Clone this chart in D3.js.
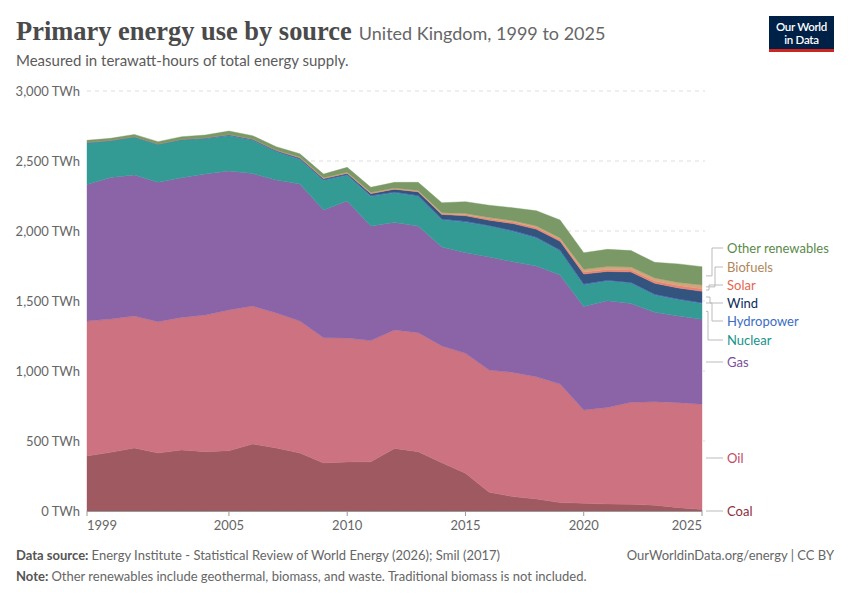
<!DOCTYPE html>
<html>
<head>
<meta charset="utf-8">
<script src="https://cdn.jsdelivr.net/npm/d3@7"></script>
<style>
  body { margin: 0; background: #fff; }
  svg { display: block; }
  text { font-family: Lato, "Noto Sans", sans-serif; }
</style>
</head>
<body>
<svg id="chart" width="850" height="600"></svg>
<script>
// ---------- DATA (TWh) ----------
const years = [1999,2000,2001,2002,2003,2004,2005,2006,2007,2008,2009,2010,2011,2012,2013,2014,2015,2016,2017,2018,2019,2020,2021,2022,2023,2024,2025];
const coal     = [393,419,450,414,436,424,431,478,450,414,343,350,352,447,424,345,269,134,103,86,60,55,50,48,41,24,10];
const oil      = [964,952,943,938,947,976,1005,986,964,943,895,886,865,846,850,834,857,873,887,873,847,666,690,728,740,750,752];
const gas      = [976,1012,1007,996,997,1007,993,946,950,978,912,978,819,767,762,706,719,808,790,791,779,739,762,707,638,619,607];
const nuclear  = [295,259,270,268,271,252,252,238,202,176,211,185,211,214,212,196,218,220,217,200,173,154,141,145,124,116,114];
const hydro    = [5,5,4,5,3,5,5,5,5,5,5,4,6,5,5,5,6,5,6,5,5,7,5,5,5,5,5];
const wind     = [1,1,1,1.3,1.3,2,3,4,5,7,9,10,15,20,27,32,40,37,50,57,62,71,63,74,78,79,81];
const solar    = [0,0,0,0,0,0,0,0,0,0,0,0,0.3,1.5,2,4,7.5,10,11,12.7,12.5,15,14,15,17,17,19];
const biofuels = [0,0,0,0,0.3,0.5,1,2,3,5,6,7,7,7,8,9,9,9,10,11,12,19,21,21,21,23,26];
const otherRen = [14,14,15,16,18,19,24,22,23,24,26,35,37,40,58,71,84,88,92,109,128,119,123,117,112,132,131];

const yTicks = [0,500,1000,1500,2000,2500,3000];
const xTicks = [1999,2005,2010,2015,2020,2025];

const series = [
  {key:"coal", name:"Coal", values:coal, fill:"#9e5961", text:"#8c2f3c"},
  {key:"oil", name:"Oil", values:oil, fill:"#cc7280", text:"#c24a63"},
  {key:"gas", name:"Gas", values:gas, fill:"#8a64a6", text:"#7a4f9c"},
  {key:"nuclear", name:"Nuclear", values:nuclear, fill:"#339a94", text:"#16928a"},
  {key:"hydro", name:"Hydropower", values:hydro, fill:"#4a78c2", text:"#3b6dc4"},
  {key:"wind", name:"Wind", values:wind, fill:"#33547f", text:"#0d2b5c"},
  {key:"solar", name:"Solar", values:solar, fill:"#ea8470", text:"#e5664f"},
  {key:"biofuels", name:"Biofuels", values:biofuels, fill:"#d1a47c", text:"#b0875a"},
  {key:"other", name:"Other renewables", values:otherRen, fill:"#7a9966", text:"#5a8a48"}
];

const table = years.map((yr,i) => {
  const row = {year: yr};
  series.forEach(s => row[s.key] = s.values[i]);
  return row;
});

// ---------- LAYOUT ----------
const svg = d3.select("#chart");
const margin = {left: 87, right: 702, top: 91, bottom: 511};

const x = d3.scaleLinear().domain([1999, 2025]).range([margin.left, margin.right]);
const y = d3.scaleLinear().domain([0, 3000]).range([margin.bottom, margin.top]);

// Title
const title = svg.append("text")
  .attr("x", 16).attr("y", 40)
  .style("font-family", "'Liberation Serif', 'DejaVu Serif', serif")
  .style("font-weight", "bold")
  .style("font-size", "27px")
  .attr("fill", "#4a4a4a")
  .text("Primary energy use by source");
let tw = title.node().getComputedTextLength();
const targetW = 336;
title.style("font-size", (27 * targetW / tw).toFixed(2) + "px");
tw = title.node().getComputedTextLength();

svg.append("text")
  .attr("x", 16 + tw + 7).attr("y", 40)
  .style("font-size", "18px")
  .attr("fill", "#666")
  .text("United Kingdom, 1999 to 2025");

svg.append("text")
  .attr("x", 16).attr("y", 66)
  .style("font-size", "15px")
  .attr("fill", "#5b5b5b")
  .text("Measured in terawatt-hours of total energy supply.");

// Logo
const logo = svg.append("g").attr("transform", "translate(769,16)");
logo.append("rect").attr("width", 65).attr("height", 36).attr("fill", "#002147");
logo.append("rect").attr("y", 33).attr("width", 65).attr("height", 3).attr("fill", "#ce261e");
logo.append("text").attr("x", 32.5).attr("y", 15).attr("text-anchor", "middle")
  .attr("fill", "#fff").style("font-size", "11.5px").style("font-weight", "600")
  .style("letter-spacing", "-0.3px").text("Our World");
logo.append("text").attr("x", 32.5).attr("y", 28).attr("text-anchor", "middle")
  .attr("fill", "#fff").style("font-size", "11.5px").style("font-weight", "600")
  .style("letter-spacing", "-0.3px").text("in Data");

// Grid + y labels
const grid = svg.append("g");
yTicks.forEach(t => {
  if (t > 0) {
    grid.append("line")
      .attr("x1", margin.left).attr("x2", 705)
      .attr("y1", y(t)).attr("y2", y(t))
      .attr("stroke", "#dddddd").attr("stroke-width", 1)
      .attr("stroke-dasharray", "4,4");
  }
  grid.append("text")
    .attr("x", 80).attr("y", y(t)).attr("dy", "0.35em")
    .attr("text-anchor", "end")
    .style("font-size", "13px").attr("fill", "#666")
    .text(d3.format(",")(t) + " TWh");
});

// Stacked areas
const stack = d3.stack().keys(series.map(s => s.key));
const stacked = stack(table);
const area = d3.area()
  .x(d => x(d.data.year))
  .y0(d => y(d[0]))
  .y1(d => y(d[1]));

svg.append("g").selectAll("path")
  .data(stacked)
  .join("path")
  .attr("d", area)
  .attr("fill", (d,i) => series[i].fill)
  .attr("stroke", (d,i) => series[i].fill)
  .attr("stroke-width", 0.4);

// X axis
const xAxisG = svg.append("g");
xAxisG.append("line")
  .attr("x1", margin.left).attr("x2", margin.right)
  .attr("y1", margin.bottom + 0.5).attr("y2", margin.bottom + 0.5)
  .attr("stroke", "#999");
xTicks.forEach((t, i) => {
  xAxisG.append("line")
    .attr("x1", x(t)).attr("x2", x(t))
    .attr("y1", margin.bottom).attr("y2", margin.bottom + 5)
    .attr("stroke", "#999");
  let anchor = "middle";
  if (i === 0) anchor = "start";
  if (i === xTicks.length - 1) anchor = "end";
  xAxisG.append("text")
    .attr("x", x(t)).attr("y", margin.bottom + 19)
    .attr("text-anchor", anchor)
    .style("font-size", "13px").attr("fill", "#666")
    .text(t);
});

// Right-side labels
const last = stacked.map(s => s[s.length - 1]);
const labelY = {other:248, biofuels:267, solar:285, wind:303, hydro:321, nuclear:340, gas:362, oil:458, coal:511};
const elbow = {other:712, biofuels:715, solar:709, wind:710, hydro:712, nuclear:708};
const lab = svg.append("g");
series.forEach((s, i) => {
  const d = last[i];
  const midY = y((d[0] + d[1]) / 2);
  const ly = labelY[s.key];
  const x0 = 706, x1 = 723;
  let path;
  if (elbow[s.key]) {
    const ex = elbow[s.key];
    path = `M${x0},${midY}H${ex}V${ly}H${x1}`;
  } else {
    path = `M${x0},${ly}H${x1}`;
  }
  lab.append("path").attr("d", path)
    .attr("fill", "none").attr("stroke", "#bbbbbb").attr("stroke-width", 1);
  lab.append("text")
    .attr("x", 727).attr("y", ly).attr("dy", "0.35em")
    .style("font-size", "13px").attr("fill", s.text)
    .text(s.name);
});

// Footer
const f1 = svg.append("text").attr("x", 16).attr("y", 560)
  .style("font-size", "13px").attr("fill", "#666");
f1.append("tspan").style("font-weight", "bold").attr("fill", "#555").text("Data source: ");
f1.append("tspan").text("Energy Institute - Statistical Review of World Energy (2026); Smil (2017)");

svg.append("text").attr("x", 834).attr("y", 560).attr("text-anchor", "end")
  .style("font-size", "13px").attr("fill", "#666")
  .text("OurWorldinData.org/energy | CC BY");

const f2 = svg.append("text").attr("x", 16).attr("y", 581)
  .style("font-size", "13px").attr("fill", "#666");
f2.append("tspan").style("font-weight", "bold").attr("fill", "#555").text("Note: ");
f2.append("tspan").text("Other renewables include geothermal, biomass, and waste. Traditional biomass is not included.");
</script>
</body>
</html>
